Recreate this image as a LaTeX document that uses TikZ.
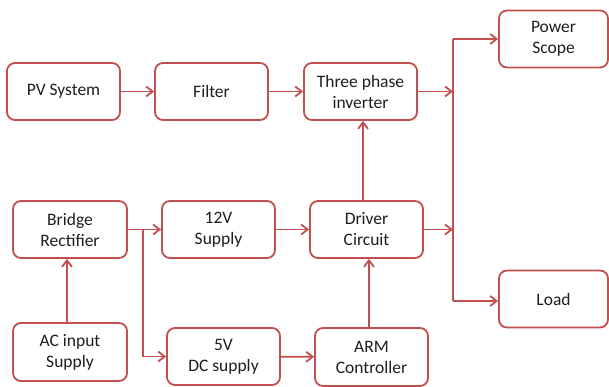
\documentclass[tikz,border=0pt]{standalone}
\usepackage{fontspec}
\setmainfont{Carlito}
\usetikzlibrary{arrows.meta,calc}
\definecolor{boxred}{RGB}{192,80,77}
\definecolor{txt}{RGB}{30,30,30}
\begin{document}
\begin{tikzpicture}[x=1pt,y=-1pt,
  blk/.style={draw=boxred,line width=1.8pt,rounded corners=8pt,fill=white,
    minimum width=113pt,minimum height=57pt,align=center,text=txt,
    font=\fontsize{17.5}{21}\selectfont,inner sep=0pt},
  arr/.style={draw=boxred,line width=1.8pt,-{Straight Barb[length=6.5pt,width=10pt,line width=1.8pt]}},
  ln/.style={draw=boxred,line width=1.8pt}]
\useasboundingbox (0,0) rectangle (609,387);
\node[blk] (pv) at (63.5,91.5) {PV System};
\node[blk] (flt) at (211.5,91.5) {Filter};
\node[blk] (inv) at (360.5,91.5) {Three phase\\inverter};
\node[blk,minimum width=109pt] (scope) at (553.5,39) {Power\\Scope};
\node[blk,minimum width=109pt] (load) at (553.5,299) {Load};
\node[blk,minimum width=114pt] (br) at (70,229.5) {Bridge\\Rectifier};
\node[blk] (tw) at (218.5,229.5) {12V\\Supply};
\node[blk] (drv) at (366.5,229.5) {Driver\\Circuit};
\node[blk,minimum width=114pt,minimum height=58pt] (ac) at (70,352) {AC input\\Supply};
\node[blk] (five) at (223.5,356.5) {5V\\DC supply};
\node[blk,minimum height=58pt] (arm) at (371.5,357) {ARM\\Controller};
\coordinate (busT) at (453,39);
\coordinate (busB) at (453,301);
\coordinate (busI) at (453,91.5);
\coordinate (busD) at (453,229.5);
\coordinate (brn) at (143,229.5);
\draw[arr] (pv) -- (flt);
\draw[arr] (flt) -- (inv);
\draw[arr] (inv.east) -- (busI);
\draw[arr] (drv.east) -- (busD);
\draw[ln] (busT) -- (busB);
\draw[arr] (busT) -- (scope.west |- busT);
\draw[arr] (busB) -- (load.west |- busB);
\draw[arr] ([xshift=-3.5pt]drv.north) -- ([xshift=-3.5pt]drv.north |- inv.south);
\draw[arr] ([xshift=-2.5pt]arm.north) -- ([xshift=-2.5pt]arm.north |- drv.south);
\draw[arr] ([xshift=-3pt]ac.north) -- ([xshift=-3pt]ac.north |- br.south);
\draw[arr] (br) -- (tw);
\draw[arr] (brn) |- (five.west);
\draw[arr] (tw) -- (drv);
\draw[arr] (five) -- (arm);
\end{tikzpicture}
\end{document}
